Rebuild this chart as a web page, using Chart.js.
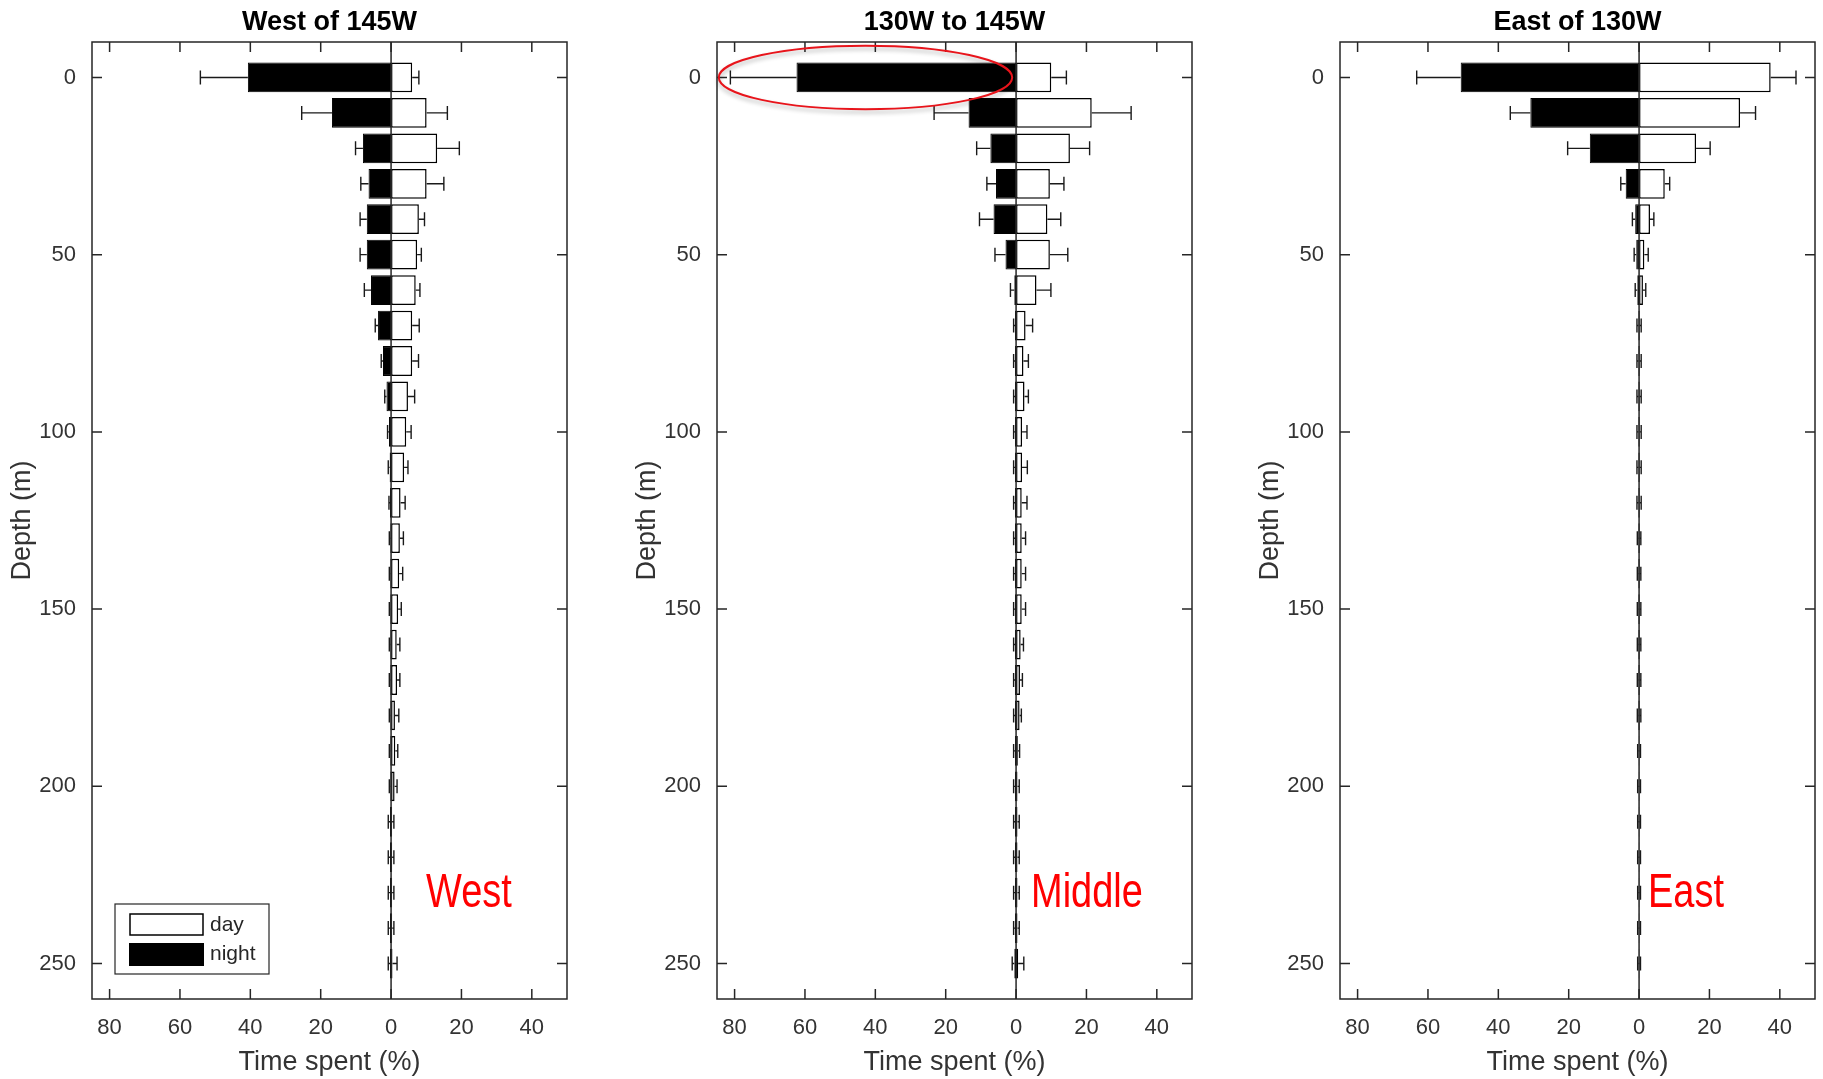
<!DOCTYPE html>
<html>
<head>
<meta charset="utf-8">
<script src="https://cdn.jsdelivr.net/npm/chart.js@4.4.1/dist/chart.umd.min.js"></script>
<style>
  html, body { margin: 0; padding: 0; background: #fff; overflow: hidden; }
  body { width: 1823px; height: 1079px; position: relative; }
  canvas { position: absolute; top: 0; }
</style>
</head>
<body>
<canvas id="west" width="575" height="1079" style="left:0px"></canvas>
<canvas id="middle" width="575" height="1079" style="left:625px"></canvas>
<canvas id="east" width="575" height="1079" style="left:1248px"></canvas>
<script>
// depth bins (m)
const depths = [0, 10, 20, 30, 40, 50, 60, 70, 80, 90, 100, 110, 120, 130, 140, 150, 160, 170, 180, 190, 200, 210, 220, 230, 240, 250]
const xTicks = [-80, -60, -40, -20, 0, 20, 40]
const yTicks = [0, 50, 100, 150, 200, 250]

// West of 145W  (% time spent)
const dayW      = [6.0, 10.1, 13.1, 10.1, 7.9, 7.4, 7.0, 6.0, 6.0, 4.8, 4.3, 3.7, 2.7, 2.5, 2.3, 2.0, 1.6, 1.7, 1.1, 1.2, 1.0, 0.3, 0.3, 0.3, 0.3, 0.4]
const dayWErr   = [1.9, 5.9, 6.3, 4.9, 1.6, 1.2, 1.2, 2.0, 1.8, 1.9, 1.4, 1.1, 1.3, 1.0, 1.0, 0.9, 0.9, 0.8, 1.1, 0.7, 0.7, 0.5, 0.5, 0.5, 0.5, 1.3]
const nightW    = [40.7, 16.8, 8.0, 6.4, 6.9, 6.9, 5.7, 3.7, 2.3, 1.3, 0.6, 0.4, 0.3, 0.2, 0.2, 0.2, 0.2, 0.2, 0.2, 0.2, 0.2, 0.3, 0.3, 0.3, 0.3, 0.3]
const nightWErr = [13.5, 8.6, 2.1, 2.2, 1.9, 1.9, 1.9, 0.8, 0.5, 0.5, 0.4, 0.4, 0.3, 0.3, 0.3, 0.3, 0.3, 0.3, 0.3, 0.3, 0.3, 0.5, 0.5, 0.5, 0.5, 0.5]

// 130W to 145W
const dayM      = [10.0, 21.5, 15.3, 9.6, 8.9, 9.6, 5.8, 2.7, 2.1, 2.4, 1.7, 1.7, 1.6, 1.6, 1.6, 1.6, 1.3, 1.1, 1.0, 0.5, 0.4, 0.4, 0.4, 0.4, 0.4, 0.6]
const dayMErr   = [4.3, 11.2, 5.6, 4.0, 3.8, 5.1, 4.1, 2.0, 1.4, 1.1, 1.4, 1.5, 1.5, 1.1, 1.1, 1.1, 0.8, 0.7, 0.5, 0.5, 0.5, 0.5, 0.5, 0.5, 0.5, 1.6]
const nightM    = [62.4, 13.5, 7.3, 5.7, 6.4, 3.0, 0.5, 0.3, 0.3, 0.3, 0.3, 0.3, 0.3, 0.3, 0.3, 0.3, 0.3, 0.3, 0.3, 0.3, 0.3, 0.3, 0.3, 0.3, 0.3, 0.5]
const nightMErr = [18.8, 9.8, 3.9, 2.6, 4.0, 3.0, 1.1, 0.4, 0.4, 0.4, 0.4, 0.4, 0.4, 0.4, 0.4, 0.4, 0.4, 0.4, 0.4, 0.4, 0.4, 0.4, 0.4, 0.4, 0.4, 0.6]

// East of 130W
const dayE      = [37.4, 28.7, 16.2, 7.3, 3.1, 1.5, 1.1, 0.2, 0.2, 0.2, 0.2, 0.2, 0.2, 0.2, 0.2, 0.2, 0.2, 0.2, 0.2, 0.1, 0.1, 0.1, 0.1, 0.1, 0.1, 0.1]
const dayEErr   = [7.2, 4.4, 4.0, 1.4, 1.1, 1.1, 0.8, 0.4, 0.4, 0.4, 0.4, 0.4, 0.4, 0.3, 0.3, 0.3, 0.3, 0.3, 0.3, 0.3, 0.3, 0.3, 0.3, 0.3, 0.3, 0.3]
const nightE    = [50.7, 30.9, 14.0, 3.8, 1.1, 0.8, 0.5, 0.2, 0.2, 0.2, 0.2, 0.2, 0.2, 0.2, 0.2, 0.2, 0.2, 0.2, 0.2, 0.1, 0.1, 0.1, 0.1, 0.1, 0.1, 0.1]
const nightEErr = [12.5, 5.7, 6.3, 1.4, 0.8, 0.6, 0.6, 0.4, 0.4, 0.4, 0.4, 0.4, 0.4, 0.3, 0.3, 0.3, 0.3, 0.3, 0.3, 0.3, 0.3, 0.3, 0.3, 0.3, 0.3, 0.3]

const INK = '#262626'
const FONT = '"Liberation Sans", Arial, Helvetica, sans-serif'

const errorBars = {
  id: 'errorBars',
  afterDatasetsDraw(chart) {
    const { ctx, scales: { x } } = chart
    ctx.save()
    ctx.strokeStyle = '#1a1a1a'; ctx.lineWidth = 1.4
    chart.data.datasets.forEach((ds, di) => {
      const meta = chart.getDatasetMeta(di)
      meta.data.forEach((bar, i) => {
        const v = ds.data[i].x, e = ds.err[i]
        const ex = x.getPixelForValue(v < 0 ? v - e : v + e)
        ctx.beginPath()
        ctx.moveTo(bar.x, bar.y); ctx.lineTo(ex, bar.y)
        ctx.moveTo(ex, bar.y - 7); ctx.lineTo(ex, bar.y + 7)
        ctx.stroke()
      })
    })
    ctx.restore()
  }
}

const frame = {
  id: 'frame',
  afterDatasetsDraw(chart, args, opts) {
    const { ctx, chartArea: a, scales: { x, y } } = chart
    ctx.save()
    ctx.strokeStyle = INK; ctx.lineWidth = 1.5
    const x0 = x.getPixelForValue(0)
    ctx.beginPath(); ctx.moveTo(x0, a.top); ctx.lineTo(x0, a.bottom); ctx.stroke()
    ctx.strokeRect(a.left, a.top, a.right - a.left, a.bottom - a.top)
    ctx.beginPath()
    xTicks.forEach(v => {
      const px = x.getPixelForValue(v)
      ctx.moveTo(px, a.bottom); ctx.lineTo(px, a.bottom - 10)
      ctx.moveTo(px, a.top); ctx.lineTo(px, a.top + 10)
    })
    yTicks.forEach(v => {
      const py = y.getPixelForValue(v)
      ctx.moveTo(a.left, py); ctx.lineTo(a.left + 10, py)
      ctx.moveTo(a.right, py); ctx.lineTo(a.right - 10, py)
    })
    ctx.stroke()

    // region tag in red
    ctx.fillStyle = '#ff0000'
    ctx.font = '48px ' + FONT
    ctx.textBaseline = 'alphabetic'
    ctx.translate(x0 + opts.tagDx, a.bottom - 92)
    ctx.scale(0.79, 1)
    ctx.fillText(opts.tag, 0, 0)
    ctx.restore()

    if (opts.ellipse) {
      ctx.save()
      ctx.strokeStyle = '#e8141b'; ctx.lineWidth = 2
      ctx.shadowColor = 'rgba(0,0,0,0.3)'; ctx.shadowBlur = 4; ctx.shadowOffsetY = 3
      ctx.beginPath()
      ctx.ellipse(x0 - 150.6, y.getPixelForValue(0), 146.7, 31.7, 0, 0, Math.PI * 2)
      ctx.stroke()
      ctx.restore()
    }

    if (opts.legend) {
      const l = a.left + 23, t = a.bottom - 95
      ctx.save()
      ctx.fillStyle = '#fff'; ctx.strokeStyle = INK; ctx.lineWidth = 1.2
      ctx.fillRect(l, t, 154, 70); ctx.strokeRect(l, t, 154, 70)
      ctx.lineWidth = 1.5; ctx.strokeStyle = '#000'
      ctx.strokeRect(l + 15, t + 10, 73, 21)
      ctx.fillStyle = '#000'; ctx.fillRect(l + 14, t + 39, 75, 23)
      ctx.fillStyle = INK; ctx.font = '21px ' + FONT; ctx.textBaseline = 'middle'
      ctx.fillText('day', l + 95, t + 21)
      ctx.fillText('night', l + 95, t + 50)
      ctx.restore()
    }
  }
}

function makePanel(id, title, day, dayErr, night, nightErr, extra) {
  return new Chart(document.getElementById(id), {
    type: 'bar',
    data: {
      datasets: [
        { label: 'day', data: depths.map((d, i) => ({ x: day[i], y: d })), err: dayErr, backgroundColor: '#fff', borderColor: '#000', borderWidth: 1.5, borderSkipped: false },
        { label: 'night', data: depths.map((d, i) => ({ x: -night[i], y: d })), err: nightErr, backgroundColor: '#000', borderColor: '#000', borderWidth: 1, borderSkipped: false },
      ],
    },
    options: {
      indexAxis: 'y',
      responsive: false,
      animation: false,
      layout: { padding: { left: 0, right: 8, top: 0, bottom: 0 } },
      datasets: { bar: { grouped: false, barPercentage: 0.84, categoryPercentage: 1 } },
      plugins: {
        legend: { display: false },
        tooltip: { enabled: false },
        title: { display: true, text: title, fullSize: false, color: '#000', font: { family: FONT, size: 27, weight: 'bold' }, padding: { top: 6, bottom: 3.6 } },
        frame: extra,
      },
      scales: {
        x: {
          type: 'linear', min: -85, max: 50,
          grid: { display: false }, border: { display: false },
          afterBuildTicks: s => { s.ticks = xTicks.map(v => ({ value: v })) },
          afterFit: s => { s.height = 80 },
          ticks: { color: '#333', padding: 8, maxRotation: 0, autoSkip: false, font: { family: FONT, size: 22 }, callback: v => Math.abs(v) },
          title: { display: true, text: 'Time spent (%)', color: '#333', font: { family: FONT, size: 27 }, padding: { top: 0, bottom: 0 } },
        },
        y: {
          type: 'linear', reverse: true, min: -10, max: 260, offset: false,
          grid: { display: false }, border: { display: false },
          afterBuildTicks: s => { s.ticks = yTicks.map(v => ({ value: v })) },
          afterFit: s => { s.width = 92 },
          ticks: { color: '#333', padding: 8, autoSkip: false, font: { family: FONT, size: 22 } },
          title: { display: true, text: 'Depth (m)', color: '#333', font: { family: FONT, size: 27 }, padding: { top: 6, bottom: 0 } },
        },
      },
    },
    plugins: [errorBars, frame],
  })
}

makePanel('west', 'West of 145W', dayW, dayWErr, nightW, nightWErr, { tag: 'West', tagDx: 35, legend: true })
makePanel('middle', '130W to 145W', dayM, dayMErr, nightM, nightMErr, { tag: 'Middle', tagDx: 15, ellipse: true })
makePanel('east', 'East of 130W', dayE, dayEErr, nightE, nightEErr, { tag: 'East', tagDx: 9 })
</script>
</body>
</html>
